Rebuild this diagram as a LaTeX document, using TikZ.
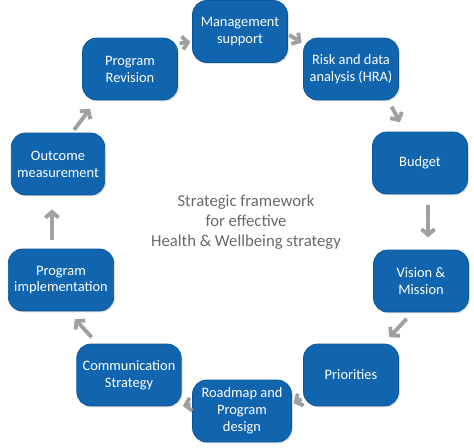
\documentclass[tikz,border=0pt]{standalone}
\usepackage{fontspec}
\setmainfont{Carlito}
\usetikzlibrary{arrows.meta, shadows}
\definecolor{myblue}{RGB}{16,101,174}
\definecolor{myblueline}{RGB}{10,85,150}
\definecolor{mygrey}{RGB}{160,160,160}
\definecolor{mytext}{RGB}{105,105,105}
\tikzset{
  stage/.style={rectangle, draw=myblueline, fill=myblue, text=white,
    minimum width=1.9cm, minimum height=1.24cm, align=center,
    font=\fontsize{8.2}{9.6}\selectfont, rounded corners=8pt, line width=0.4pt,
    drop shadow={opacity=0.25, shadow xshift=0.8pt, shadow yshift=-0.8pt}},
  flow/.style={-{Straight Barb[length=3.2pt,width=7.5pt]}, line width=2.2pt,
    color=mygrey, shorten <=1pt, shorten >=1pt},
  title/.style={align=center, text=mytext, font=\fontsize{9.5}{11.5}\selectfont}
}
\begin{document}
\begin{tikzpicture}[x=0.02cm, y=-0.02cm]
  \useasboundingbox (0,0) rectangle (474,447);
  % Stages
  \node[stage] (mgmt)    at (240,31.5) {Management\\support};
  \node[stage] (risk)    at (351,69)   {Risk and data\\analysis (HRA)};
  \node[stage] (budget)  at (420,163)  {Budget};
  \node[stage] (vision)  at (421,281)  {Vision \&\\Mission};
  \node[stage] (prio)    at (351,375)  {Priorities};
  \node[stage, minimum width=1.98cm] (roadmap) at (242,411) {Roadmap and\\Program\\design};
  \node[stage, minimum width=2.04cm] (comm)    at (129,375) {Communication\\Strategy};
  \node[stage, minimum width=2.04cm] (impl)    at (61,280)  {Program\\implementation};
  \node[stage, minimum width=1.8cm]  (outcome) at (58,164)  {Outcome\\measurement};
  \node[stage] (rev)     at (130,69)   {Program\\Revision};
  % Centre text
  \node[title] (centre) at (246,222) {Strategic framework\\for effective\\Health \& Wellbeing strategy};
  % Cycle
  \draw[flow] (rev.28) -- (mgmt.192);
  \draw[flow] (mgmt.-3) -- (risk.152);
  \draw[flow, shorten <=4pt, shorten >=6pt] (risk.-40) -- (budget.116);
  \draw[flow, shorten <=6pt, shorten >=7pt] (budget.-76) -- (vision.77);
  \draw[flow, shorten <=5pt, shorten >=5pt] (vision.-105) -- (prio.44);
  \draw[flow] (prio.206) -- (roadmap.8);
  \draw[flow] (roadmap.172) -- (comm.-31);
  \draw[flow, shorten <=5pt, shorten >=6pt] (comm.135) -- (impl.-78);
  \draw[flow, shorten <=5pt, shorten >=8pt] (impl.106) -- (outcome.-101);
  \draw[flow, shorten <=2pt, shorten >=6pt] (outcome.66) -- (rev.-137);
\end{tikzpicture}
\end{document}
